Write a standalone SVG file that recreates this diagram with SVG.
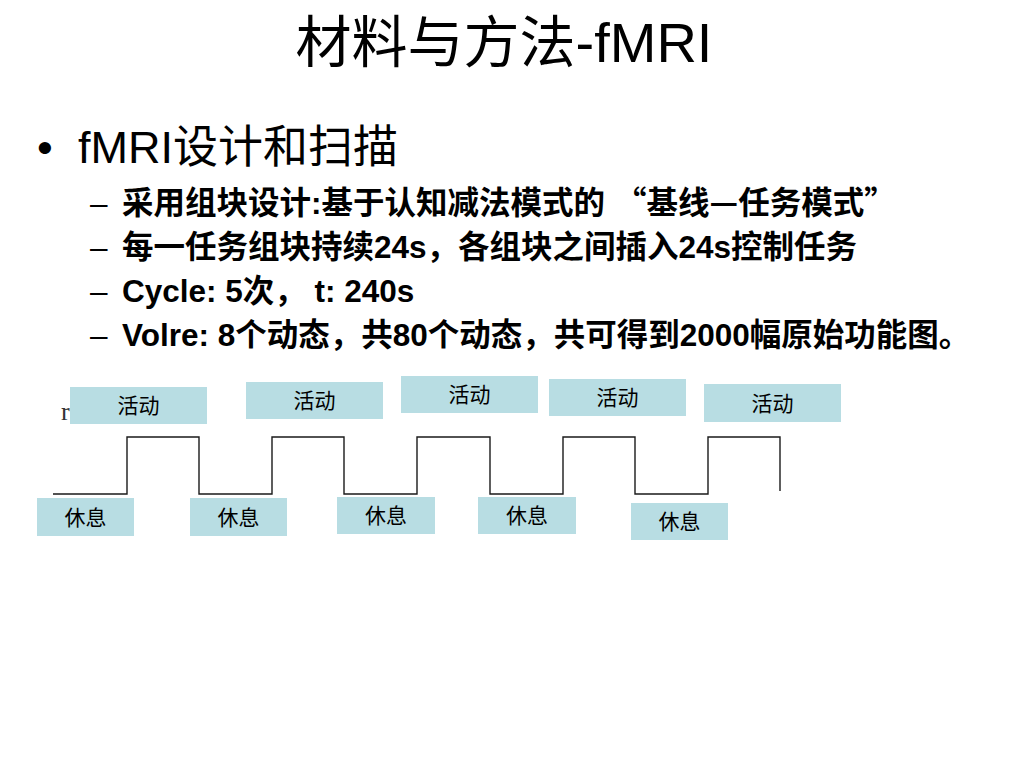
<svg xmlns="http://www.w3.org/2000/svg" width="1024" height="768" viewBox="0 0 1024 768">
<style>
.t{font-family:"Liberation Sans","Noto Sans CJK SC",sans-serif;fill:#000}
.cjk{font-family:"Noto Sans CJK SC",sans-serif}
.sub{font-size:31.5px;font-weight:bold}
.box{fill:#b8dde3}
.lbl{font-family:"Noto Sans CJK SC",sans-serif;font-size:21px;fill:#000;text-anchor:middle}
.wave{fill:none;stroke:#1a1a1a;stroke-width:1.4}
</style>
<rect width="1024" height="768" fill="#fff"/>
<text class="t" x="504" y="62" font-size="56" text-anchor="middle">材料与方法-fMRI</text>
<text class="t" x="37" y="163" font-size="45">•</text>
<text class="t" x="78" y="163" font-size="45">fMRI设计和扫描</text>
<g class="t sub">
<text x="90" y="214" font-weight="normal">–</text>
<text x="122" y="214">采用组块设计:基于认知减法模式的<tspan class="cjk" dx="10">“</tspan>基线<tspan class="cjk">—</tspan>任务模式<tspan class="cjk">”</tspan></text>
<text x="90" y="258" font-weight="normal">–</text>
<text x="122" y="258">每一任务组块持续24s，各组块之间插入24s控制任务</text>
<text x="90" y="302" font-weight="normal">–</text>
<text x="122" y="302">Cycle: 5次，  t: 240s</text>
<text x="90" y="346" font-weight="normal">–</text>
<text x="122" y="346">Volre: 8个动态，共80个动态，共可得到2000幅原始功能图。</text>
</g>
<text x="61" y="420" font-family="Liberation Serif,serif" font-size="26" fill="#333">r</text>
<g id="connectors">
<path class="wave" d="M53,494 H127 V437 H199 V494 H272 V437 H344 V494 H417 V437 H490 V494 H563 V437 H635 V494 H708 V437 H780 V491"/>
</g>
<g id="active1"><rect class="box" x="70" y="387" width="137" height="37"/><text class="lbl" x="138.5" y="413">活动</text></g>
<g id="active2"><rect class="box" x="246" y="382" width="137" height="37"/><text class="lbl" x="314.5" y="408">活动</text></g>
<g id="active3"><rect class="box" x="401" y="376" width="137" height="37"/><text class="lbl" x="469.5" y="402">活动</text></g>
<g id="active4"><rect class="box" x="549" y="379" width="137" height="37"/><text class="lbl" x="617.5" y="405">活动</text></g>
<g id="active5"><rect class="box" x="704" y="384" width="137" height="38"/><text class="lbl" x="772.5" y="410.5">活动</text></g>
<g id="rest1"><rect class="box" x="37" y="498" width="97" height="38"/><text class="lbl" x="85.5" y="524.5">休息</text></g>
<g id="rest2"><rect class="box" x="190" y="498" width="97" height="38"/><text class="lbl" x="238.5" y="524.5">休息</text></g>
<g id="rest3"><rect class="box" x="337" y="497" width="98" height="37"/><text class="lbl" x="386" y="523">休息</text></g>
<g id="rest4"><rect class="box" x="478" y="497" width="98" height="37"/><text class="lbl" x="527" y="523">休息</text></g>
<g id="rest5"><rect class="box" x="631" y="503" width="97" height="37"/><text class="lbl" x="679.5" y="529">休息</text></g>
</svg>
